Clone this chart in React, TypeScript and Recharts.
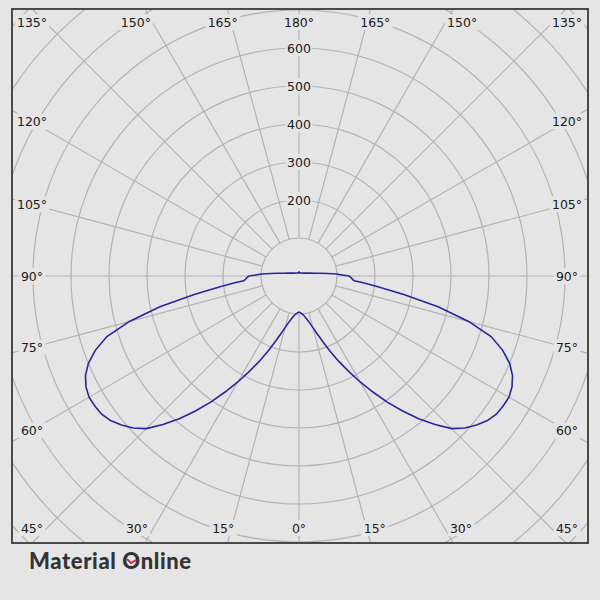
import { RadarChart, PolarGrid, PolarAngleAxis, PolarRadiusAxis, Radar } from 'recharts'

// luminous intensity (cd/klm) for one half of the C0/C180 plane,
// gamma measured from nadir: 0 = straight down, 180 = straight up
const GAMMA = [
  0, 2.5, 5, 7.5, 10, 12.5, 15, 17.5, 20, 22.5, 25, 27.5, 30, 32.5, 35, 37.5, 40, 42.5, 45,
  47.5, 50, 52.5, 55, 57.5, 60, 62.5, 65, 67.5, 70, 72.5, 75, 77.5, 80, 82.5, 84, 85, 86,
  87.5, 90, 91, 92, 93, 95, 97.5, 100, 105, 110, 120, 135, 150, 165, 175, 178, 180,
]
const CANDELA = [
  95, 97, 101, 106, 114, 125, 140, 160, 185, 215, 248, 283, 322, 362, 405, 448, 490, 530, 568,
  592, 610, 625, 634, 637, 638, 632, 620, 600, 570, 530, 462, 375, 280, 205, 170, 146, 142,
  139, 132, 118, 107, 99, 76, 55, 42, 29, 22, 15, 11, 9, 8, 8, 12, 8,
]

const RADIUS_TICKS = [100, 200, 300, 400, 500, 600, 700, 800, 900, 1000, 1100]
const RADIUS_LABELS = [200, 300, 400, 500, 600]
const ANGLE_TICKS = [
  0, 15, 30, 45, 60, 75, 90, 105, 120, 135, 150, 165, 180, 195, 210, 225, 240, 255, 270, 285,
  300, 315, 330, 345,
]

const W = 574
const H = 532
const CX = 286
const CY = 266
const BG = '#e5e5e5'
const GRID = '#b3b3b3'
const INK = '#1a1a1a'
const CURVE = '#2626a0'
const FONT = 'DejaVu Sans'

// right half runs 0 -> 180, the mirrored left half comes back 180 -> 360
const data = [
  ...GAMMA.map((g, i) => ({ angle: g, cd: CANDELA[i] })),
  ...GAMMA.map((g, i) => ({ angle: 360 - g, cd: CANDELA[i] })).slice(1, -1).reverse(),
]

function Label({ x, y, text }: { x: number; y: number; text: string }) {
  const w = text.length * 7.6 + 4
  return (
    <g>
      <rect x={x - w / 2} y={y - 8} width={w} height={16} fill={BG} />
      <text x={x} y={y} dy="0.36em" textAnchor="middle" fontSize={12.5} fontFamily={FONT} fill={INK}>
        {text}
      </text>
    </g>
  )
}

function AngleTick(props: any) {
  const { x, y, payload } = props
  const dx = x - CX
  const dy = y - CY
  const len = Math.hypot(dx, dy)
  const ux = dx / len
  const uy = dy / len
  // labels sit on an inset frame just inside the box
  const L = 19
  const R = W - 20
  const T = 12
  const B = H - 14
  const tx = ux > 1e-9 ? (R - CX) / ux : ux < -1e-9 ? (L - CX) / ux : Infinity
  const ty = uy > 1e-9 ? (B - CY) / uy : uy < -1e-9 ? (T - CY) / uy : Infinity
  let px = CX + ux * Math.min(tx, ty)
  let py = CY + uy * Math.min(tx, ty)
  if (ty <= tx) {
    const dev = (Math.atan(Math.abs(ux) / Math.abs(uy)) * 180) / Math.PI
    px += Math.sign(ux) * dev * 0.55
  }
  px = Math.max(L, Math.min(R, px))
  py = Math.max(T, Math.min(B, py))
  const v = payload.value
  const gamma = v > 180 ? 360 - v : v
  return <Label x={px} y={py} text={`${gamma}°`} />
}

function RadiusTick(props: any) {
  const { x, y, payload } = props
  if (!RADIUS_LABELS.includes(payload.value)) return <g />
  return <Label x={x} y={y} text={String(payload.value)} />
}

export default function App() {
  return (
    <div style={{ position: 'absolute', left: 0, top: 0, width: 600, height: 600, background: BG }}>
      <div
        style={{
          position: 'absolute',
          left: 11,
          top: 8,
          width: W,
          height: H,
          border: '2px solid #4a4a4a',
          overflow: 'hidden',
        }}
      >
        <RadarChart
          width={W}
          height={H}
          cx={CX}
          cy={CY}
          innerRadius={38}
          outerRadius={418}
          startAngle={-90}
          endAngle={270}
          data={data}
          margin={{ top: 0, right: 0, bottom: 0, left: 0 }}
        >
          <PolarGrid gridType="circle" stroke={GRID} strokeWidth={1.2} />
          <PolarAngleAxis
            dataKey="angle"
            type="number"
            domain={[0, 360]}
            ticks={ANGLE_TICKS}
            axisLine={false}
            tickLine={false}
            tick={<AngleTick />}
          />
          <PolarRadiusAxis
            angle={90}
            type="number"
            domain={[100, 1100]}
            allowDataOverflow
            ticks={RADIUS_TICKS}
            tickCount={11}
            axisLine={false}
            tickLine={false}
            tick={<RadiusTick />}
          />
          <Radar
            dataKey="cd"
            stroke={CURVE}
            strokeWidth={1.6}
            fill="none"
            fillOpacity={0}
            dot={false}
            isAnimationActive={false}
          />
        </RadarChart>
      </div>
      <div
        style={{
          position: 'absolute',
          left: 29,
          top: 547,
          fontFamily: 'Lato',
          fontWeight: 900,
          fontSize: 22,
          letterSpacing: 0.6,
          color: '#333',
          whiteSpace: 'nowrap',
        }}
      >
        Material{' '}
        <span style={{ position: 'relative', display: 'inline-block' }}>
          O
          <svg
            width={12}
            height={12}
            style={{ position: 'absolute', left: 3, top: 8 }}
          >
            <polyline points="2,4 6,8 11,5" fill="none" stroke="#d2234e" strokeWidth={1.8} />
          </svg>
        </span>
        nline
      </div>
    </div>
  )
}
